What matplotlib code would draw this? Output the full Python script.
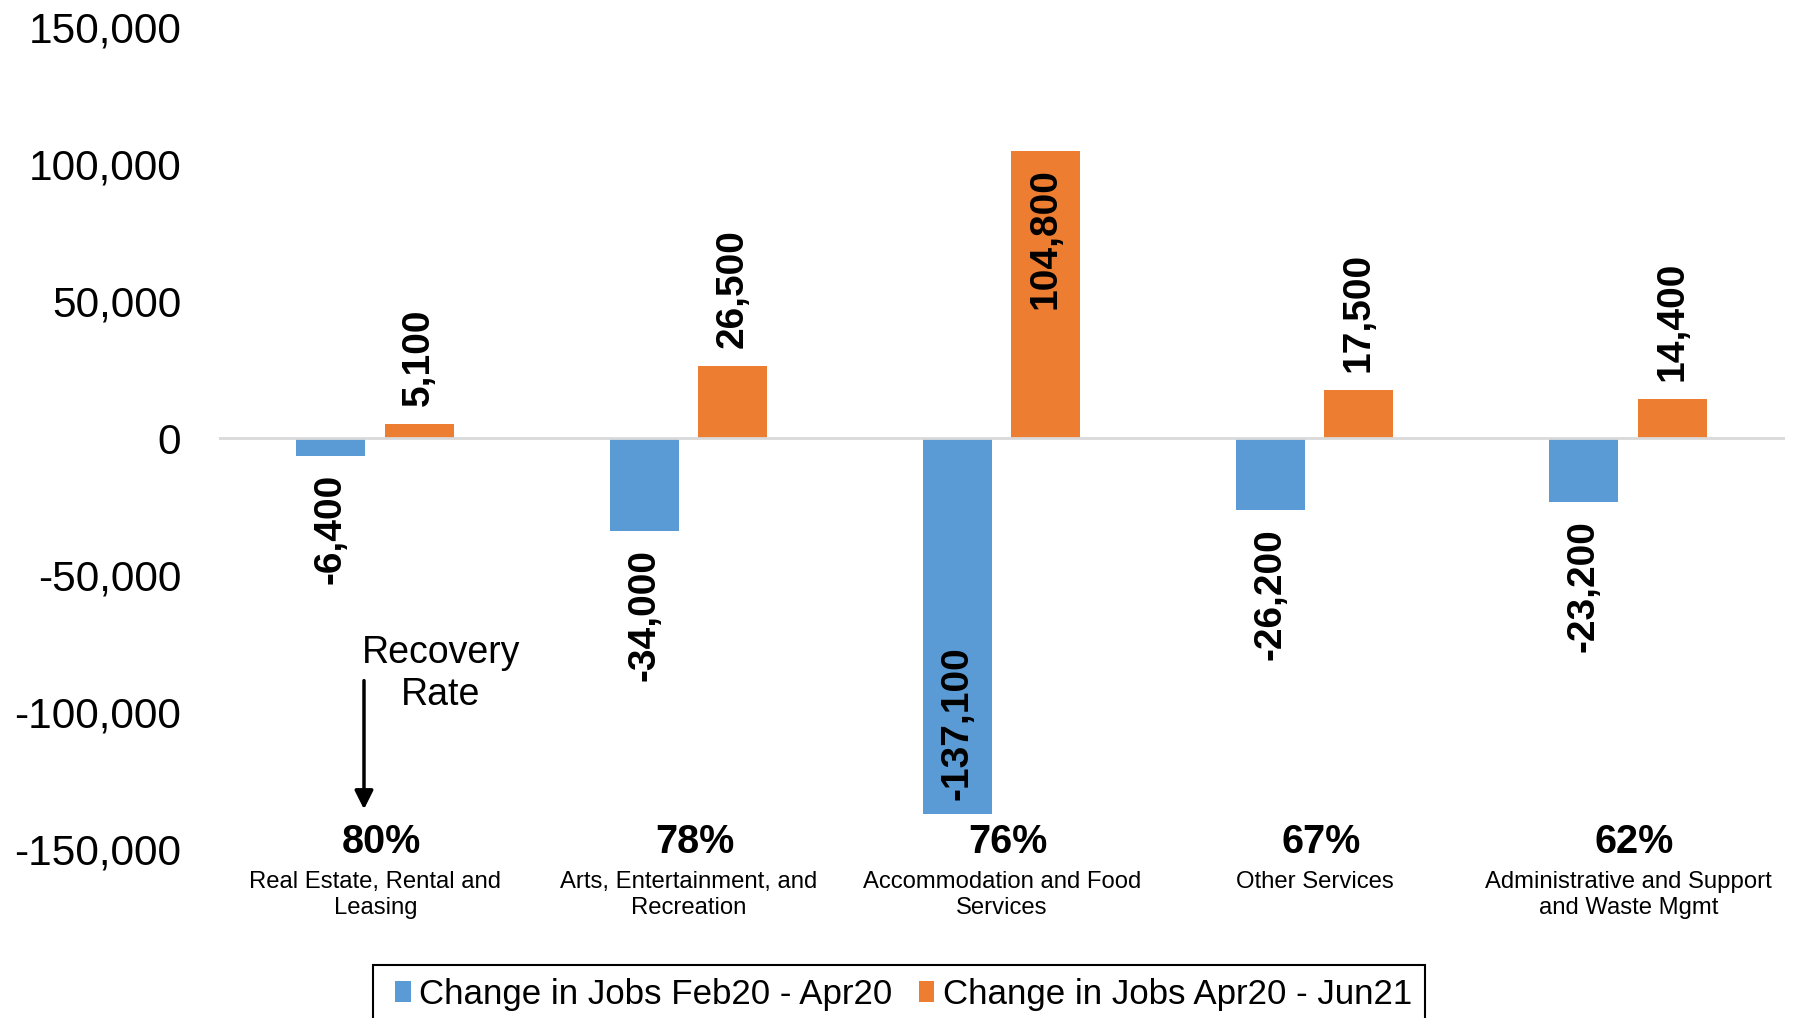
import matplotlib
matplotlib.use('Agg')
import matplotlib.pyplot as plt
import numpy as np
from matplotlib.patches import Rectangle
from matplotlib.ticker import FuncFormatter

plt.rcParams['font.family'] = ['Liberation Sans', 'DejaVu Sans']

# data
industries = [
    'Real Estate, Rental and\nLeasing',
    'Arts, Entertainment, and\nRecreation',
    'Accommodation and Food\nServices',
    'Other Services',
    'Administrative and Support\nand Waste Mgmt',
]
jobs_feb_apr20 = [-6400, -34000, -137100, -26200, -23200]
jobs_apr20_jun21 = [5100, 26500, 104800, 17500, 14400]
recovery_rate = ['80%', '78%', '76%', '67%', '62%']
y_ticks = [-150000, -100000, -50000, 0, 50000, 100000, 150000]

BLUE = '#5B9BD5'
ORANGE = '#ED7D31'

fig = plt.figure(figsize=(17.95, 10.18), dpi=100)
ax = fig.add_axes([0.1218, 0.166, 0.8726, 0.807])

x = np.arange(len(industries))
width = 0.22
bars_lost = ax.bar(x - 0.142, jobs_feb_apr20, width, color=BLUE,
                   label='Change in Jobs Feb20 - Apr20', zorder=2)
bars_gain = ax.bar(x + 0.14, jobs_apr20_jun21, width, color=ORANGE,
                   label='Change in Jobs Apr20 - Jun21', zorder=2)

ax.axhline(0, color='#D9D9D9', linewidth=2, zorder=3)

# rotated value labels, inside the bar when the bar is very long
for bars in (bars_lost, bars_gain):
    for bar in bars:
        v = bar.get_height()
        cx = bar.get_x() + bar.get_width() / 2
        inside = abs(v) > 100000
        if v >= 0:
            off, va = (-12, 'top') if inside else (13, 'bottom')
        else:
            off, va = (10, 'bottom') if inside else (-13, 'top')
        ax.annotate(f'{v:,.0f}', xy=(cx, v), xytext=(0, off),
                    textcoords='offset points', rotation=90,
                    ha='center', va=va, fontsize=28, fontweight='bold', zorder=4)

# recovery rate percentages above the category names
for i, pct in enumerate(recovery_rate):
    ax.text(i + 0.02, -147600, pct, ha='center', va='center',
            fontsize=28.5, fontweight='bold')

ax.annotate('', xy=(-0.036, -136500), xytext=(-0.036, -87500),
            arrowprops=dict(arrowstyle='-|>', color='black', lw=2.5,
                            mutation_scale=28))
ax.text(0.21, -86000, 'Recovery\nRate', ha='center', va='center',
        fontsize=27, linespacing=1.22)

ax.set_xlim(-0.5, len(industries) - 0.5)
ax.set_ylim(-150000, 150000)
ax.set_yticks(y_ticks)
ax.yaxis.set_major_formatter(FuncFormatter(lambda v, p: f'{v:,.0f}'))
ax.set_xticks(x)
ax.set_xticklabels(industries, fontsize=17.2, linespacing=1.27)
ax.tick_params(axis='y', length=0, pad=27, labelsize=30.5)
ax.tick_params(axis='x', length=0, pad=15.5)
for s in ax.spines.values():
    s.set_visible(False)

# legend box runs off the bottom edge of the figure, as in the original
fig.patches.append(Rectangle((0.2078, -0.03), 0.586, 0.082, transform=fig.transFigure,
                             facecolor='white', edgecolor='black', linewidth=1.5))
handles, labels = ax.get_legend_handles_labels()
leg = fig.legend(handles, labels, loc='center', bbox_to_anchor=(0.5034, 0.0235),
                 ncol=2, frameon=False, fontsize=25.1, handlelength=0.45,
                 handleheight=0.55, handletextpad=0.25, columnspacing=0.75,
                 borderpad=0, borderaxespad=0)

fig.savefig('out.png', dpi=100)
